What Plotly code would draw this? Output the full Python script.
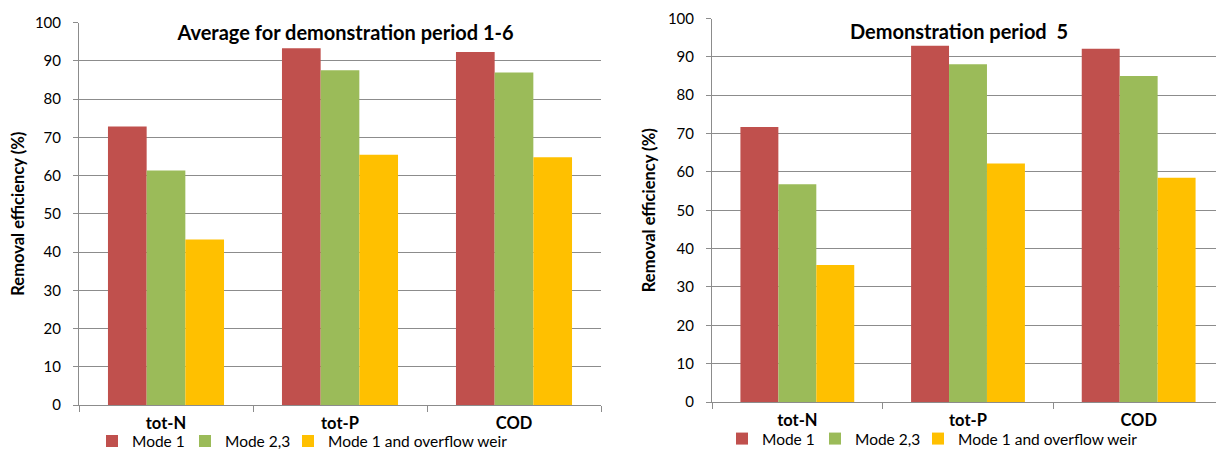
import plotly.graph_objects as go

categories = ["tot-N", "tot-P", "COD"]
series_names = ["Mode 1", "Mode 2,3", "Mode 1 and overflow weir"]

# Left panel: Average for demonstration period 1-6
avg_mode1 = [72.8, 93.3, 92.3]
avg_mode23 = [61.3, 87.5, 86.9]
avg_overflow = [43.3, 65.4, 64.8]

# Right panel: Demonstration period 5
p5_mode1 = [71.7, 92.9, 92.1]
p5_mode23 = [56.8, 88.1, 85.0]
p5_overflow = [35.7, 62.2, 58.5]

y_ticks = [0, 10, 20, 30, 40, 50, 60, 70, 80, 90, 100]

colors = ["#C0504D", "#9BBB59", "#FFC000"]
legend_widths = [48, 58, 200]
FONT = "Lato, 'Liberation Sans', sans-serif"
GRID = "#8C8C8C"

# page offset of the figure (default body margin)
OFF = 8
W, H = 1216, 442

def px(x):
    return (x - OFF) / W

def py(y):
    return (H - (y - OFF)) / H

fig = go.Figure()

left_series = [avg_mode1, avg_mode23, avg_overflow]
right_series = [p5_mode1, p5_mode23, p5_overflow]

for name, vals, c, lw in zip(series_names, left_series, colors, legend_widths):
    fig.add_trace(go.Bar(x=categories, y=vals, name=name, marker=dict(color=c, line=dict(width=0)),
                         xaxis="x", yaxis="y", legend="legend", legendwidth=lw))
for name, vals, c, lw in zip(series_names, right_series, colors, legend_widths):
    fig.add_trace(go.Bar(x=categories, y=vals, name=name, marker=dict(color=c, line=dict(width=0)),
                         xaxis="x2", yaxis="y2", legend="legend2", legendwidth=lw))

def xax(domain, anchor):
    return dict(domain=domain, anchor=anchor, showline=True, linecolor=GRID, linewidth=1,
                ticks="outside", tickson="boundaries", ticklen=6, tickcolor=GRID,
                tickfont=dict(family=FONT, size=16.5, color="#000", weight="bold"),
                showgrid=False, fixedrange=True, ticklabelstandoff=3)

def yax(domain, anchor):
    return dict(domain=domain, anchor=anchor, range=[0, 100], tickvals=y_ticks,
                showline=True, linecolor=GRID, linewidth=1,
                ticks="outside", ticklen=5, tickcolor=GRID,
                tickfont=dict(family=FONT, size=15, color="#000"),
                showgrid=True, gridcolor=GRID, gridwidth=1, zeroline=False,
                ticklabelstandoff=9,
                title=dict(text="Removal efficiency (%)", standoff=8,
                           font=dict(family=FONT, size=16.5, color="#000", weight="bold")))

fig.update_layout(
    width=W, height=H,
    margin=dict(l=0, r=0, t=0, b=0, autoexpand=False),
    paper_bgcolor="white", plot_bgcolor="white",
    barmode="group", bargap=0.333, bargroupgap=0,
    xaxis=xax([px(79), px(601)], "y"),
    yaxis=yax([py(405), py(22.5)], "x"),
    xaxis2=xax([px(712), 1.0], "y2"),
    yaxis2=yax([py(402), py(18.5)], "x2"),
    legend=dict(orientation="h", x=px(92), y=py(441.5), xanchor="left", yanchor="middle",
                font=dict(family=FONT, size=15.5, color="#000"), itemwidth=30,
                bgcolor="rgba(0,0,0,0)", tracegroupgap=0),
    legend2=dict(orientation="h", x=px(722), y=py(439), xanchor="left", yanchor="middle",
                 font=dict(family=FONT, size=15.5, color="#000"), itemwidth=30,
                 bgcolor="rgba(0,0,0,0)", tracegroupgap=0),
    annotations=[
        dict(text="Average for demonstration period 1-6", x=px(345), y=py(32),
             xref="paper", yref="paper", showarrow=False, xanchor="center", yanchor="middle",
             font=dict(family=FONT, size=20, color="#000", weight="bold"),
             bgcolor="white", width=340, borderpad=1),
        dict(text="Demonstration period  5", x=px(959), y=py(31),
             xref="paper", yref="paper", showarrow=False, xanchor="center", yanchor="middle",
             font=dict(family=FONT, size=20, color="#000", weight="bold"),
             bgcolor="white", width=228, borderpad=1),
    ],
)

fig.write_html("out.html")
